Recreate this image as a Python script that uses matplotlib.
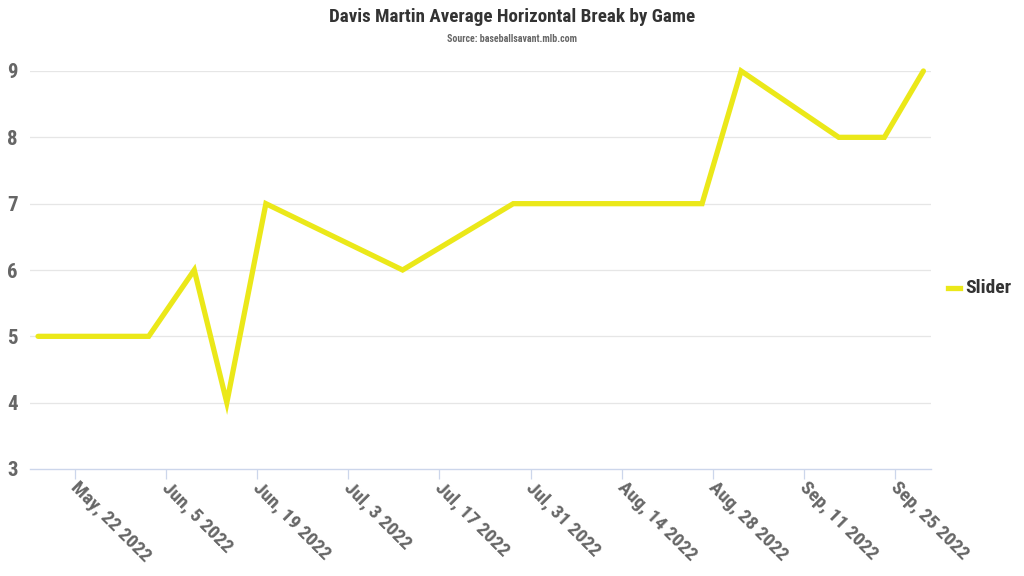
import matplotlib
matplotlib.use("Agg")
import matplotlib.pyplot as plt
import matplotlib.dates as mdates
import matplotlib.transforms as mtrans
import datetime as dt

dates = ["2022-05-16T08:00", "2022-06-02T08:00", "2022-06-09T08:00", "2022-06-14T08:00",
         "2022-06-20T08:00", "2022-07-11T08:00", "2022-07-28T08:00", "2022-08-26T08:00",
         "2022-09-01T08:00", "2022-09-16T08:00", "2022-09-23T08:00", "2022-09-29T08:00"]
slider = [5, 5, 6, 4, 7, 6, 7, 7, 9, 8, 8, 9]
tick_dates = ["2022-05-22", "2022-06-05", "2022-06-19", "2022-07-03", "2022-07-17",
              "2022-07-31", "2022-08-14", "2022-08-28", "2022-09-11", "2022-09-25"]
tick_labels = ["May, 22 2022", "Jun, 5 2022", "Jun, 19 2022", "Jul, 3 2022",
               "Jul, 17 2022", "Jul, 31 2022", "Aug, 14 2022", "Aug, 28 2022",
               "Sep, 11 2022", "Sep, 25 2022"]
yticks = [3, 4, 5, 6, 7, 8, 9]

plt.rcParams['font.family'] = ['Roboto Condensed', 'Roboto', 'DejaVu Sans']

W, H = 1024, 576
fig = plt.figure(figsize=(W / 100, H / 100), dpi=100)
L, R, B, T = 30, 931, 469, 71
ax = fig.add_axes([L / W, 1 - B / H, (R - L) / W, (B - T) / H])

x = mdates.date2num([dt.datetime.fromisoformat(d) for d in dates])
xt = mdates.date2num([dt.datetime.fromisoformat(d) for d in tick_dates])

line_color = "#ebe819"
ax.plot(x, slider, color=line_color, lw=3.8, solid_joinstyle='miter',
        solid_capstyle='round', clip_on=False, zorder=3, label="Slider")

ref = mdates.date2num(dt.datetime(2022, 5, 22))
ax.set_xlim(ref - 6.9, ref + 131.5)
ax.set_ylim(3, 9)

ax.set_yticks(yticks)
ax.set_yticklabels([str(v) for v in yticks])
for v in yticks[1:]:
    ax.axhline(v, color="#e6e6e6", lw=0.9, zorder=1)

ax.set_xticks(xt)
ax.set_xticklabels(tick_labels, rotation=-45, ha='left', va='top',
                   rotation_mode='anchor')

for s in ['top', 'right', 'left']:
    ax.spines[s].set_visible(False)
ax.spines['bottom'].set_color("#ccd6eb")
ax.spines['bottom'].set_linewidth(1.0)

ax.tick_params(axis='y', length=0, pad=9, labelsize=15, labelcolor="#666666")
ax.tick_params(axis='x', length=7, width=0.9, color="#ccd6eb", pad=2,
               labelsize=14, labelcolor="#666666")
for lab in ax.get_xticklabels() + ax.get_yticklabels():
    lab.set_fontweight('bold')
off = mtrans.ScaledTranslation(5 / 100, 3 / 100, fig.dpi_scale_trans)
for lab in ax.get_xticklabels():
    lab.set_transform(lab.get_transform() + off)

fig.text(512 / W, 1 - 17 / H, "Davis Martin Average Horizontal Break by Game",
         ha='center', va='center', fontsize=13.7, fontweight='bold', color="#333333")
fig.text(512 / W, 1 - 39 / H, "Source: baseballsavant.mlb.com",
         ha='center', va='center', fontsize=7.1, fontweight='bold', color="#666666")

# legend
fig.add_artist(plt.Line2D([948 / W, 960 / W], [1 - 288 / H, 1 - 288 / H],
                          color=line_color, lw=3.8, transform=fig.transFigure))
fig.text(965 / W, 1 - 288 / H, "Slider", ha='left', va='center', fontsize=14,
         fontweight='bold', color="#333333")

fig.savefig("out.png", dpi=100, facecolor="white")
